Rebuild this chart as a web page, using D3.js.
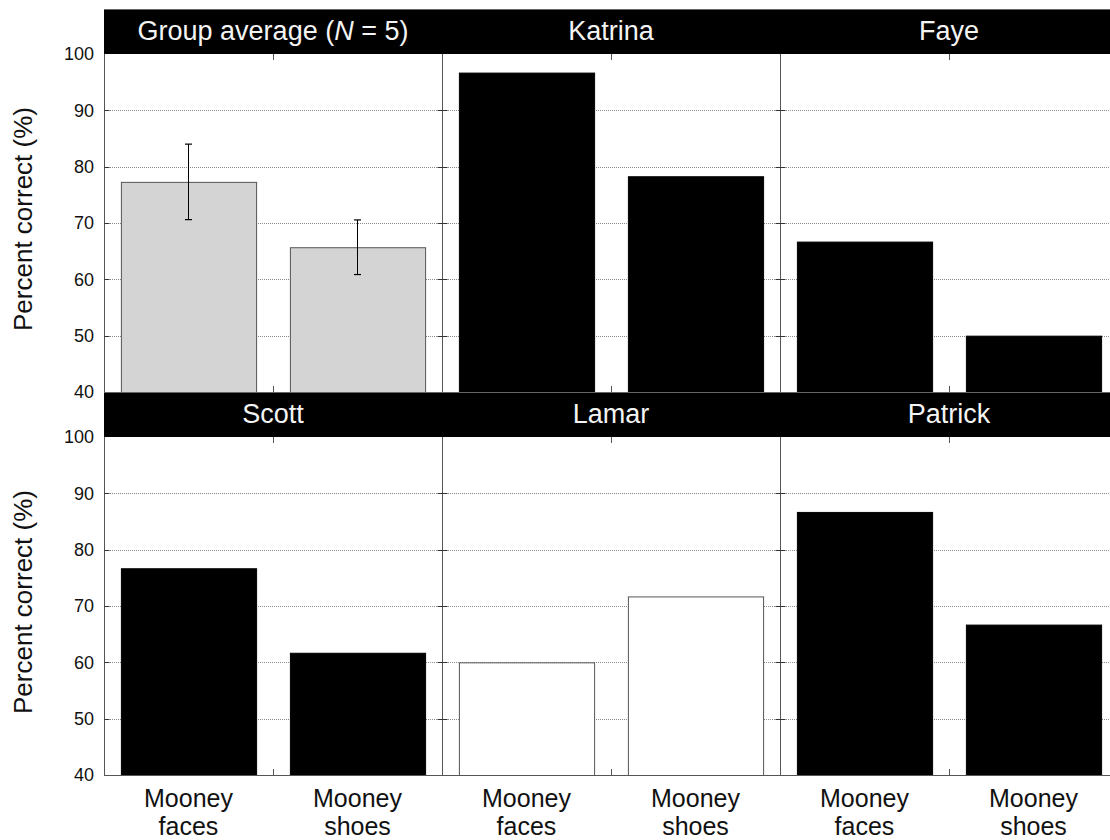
<!DOCTYPE html>
<html>
<head>
<meta charset="utf-8">
<script src="https://cdn.jsdelivr.net/npm/d3@7"></script>
<style>
  html, body { margin: 0; padding: 0; background: #fff; }
  svg { display: block; font-family: "Liberation Sans", Arial, sans-serif; }
</style>
</head>
<body>
<svg id="chart" width="1110" height="840"></svg>
<script>
// Percent correct per participant for Mooney faces vs. Mooney shoes
const subjects   = ["Group average", "Katrina", "Faye", "Scott", "Lamar", "Patrick"];
const conditions = ["Mooney faces", "Mooney shoes"];
const facesPct   = [77.3, 96.7, 66.7, 76.7, 60.0, 86.7];
const shoesPct   = [65.7, 78.3, 50.0, 61.7, 71.7, 66.7];
// Standard error for the group average (faces, shoes)
const groupErr   = [6.7, 4.85];
const yTicks     = [40, 50, 60, 70, 80, 90, 100];
const groupN     = 5;

// Bar colours: group mean in grey, Lamar in white, everyone else black
const fillFor = name => name === "Group average" ? "#d4d4d4" : (name === "Lamar" ? "#ffffff" : "#000000");
const strokeFor = name => name === "Group average" || name === "Lamar" ? "#555" : "#000";

const svg = d3.select("#chart");
const left = 104, panelW = 338, headerH = 45, plotH = 338;
const rowTops = [9, 392];           // top of each header strip
const nCols = 3;

const colScale = d3.scaleBand().domain(d3.range(nCols)).range([left, left + nCols * panelW]).padding(0);
const xInner = d3.scaleBand().domain(conditions).range([0, panelW]).paddingInner(0.2).paddingOuter(0.1);

const rows = [0, 1].map(r => {
  const plotTop = rowTops[r] + headerH;
  return { r, plotTop, y: d3.scaleLinear().domain([40, 100]).range([plotTop + plotH, plotTop]) };
});

const gridColor = "#8a8a8a";
const axisColor = "#555";

rows.forEach(row => {
  const g = svg.append("g");
  const y = row.y;
  const x0 = left, x1 = 1110 + 20;

  // dotted gridlines
  g.selectAll("line.grid").data(yTicks.filter(t => t > 40 && t < 100)).join("line")
    .attr("x1", x0).attr("x2", x1)
    .attr("y1", d => Math.round(y(d)) + 0.5).attr("y2", d => Math.round(y(d)) + 0.5)
    .attr("stroke", gridColor).attr("stroke-width", 1).attr("stroke-dasharray", "1,1");

  // bars for each panel in this row
  for (let c = 0; c < nCols; c++) {
    const i = row.r * nCols + c;
    const name = subjects[i];
    const vals = [facesPct[i], shoesPct[i]];
    const px = colScale(c);
    const pg = g.append("g").attr("transform", `translate(${px},0)`);

    pg.selectAll("rect.bar").data(conditions.map((k, j) => ({ k, v: vals[j], j }))).join("rect")
      .attr("x", d => xInner(d.k) + 0.5)
      .attr("width", xInner.bandwidth())
      .attr("y", d => y(d.v) + 0.5)
      .attr("height", d => y(40) - y(d.v))
      .attr("fill", fillFor(name))
      .attr("stroke", strokeFor(name))
      .attr("stroke-width", 1);

    if (name === "Group average") {
      const eb = pg.selectAll("g.err").data(conditions.map((k, j) => ({ k, v: vals[j], e: groupErr[j] }))).join("g");
      eb.append("line")
        .attr("x1", d => xInner(d.k) + xInner.bandwidth() / 2).attr("x2", d => xInner(d.k) + xInner.bandwidth() / 2)
        .attr("y1", d => y(d.v + d.e)).attr("y2", d => y(d.v - d.e))
        .attr("stroke", "#000").attr("stroke-width", 1);
      [1, -1].forEach(s => {
        eb.append("line")
          .attr("x1", d => xInner(d.k) + xInner.bandwidth() / 2 - 3.5)
          .attr("x2", d => xInner(d.k) + xInner.bandwidth() / 2 + 3.5)
          .attr("y1", d => y(d.v + s * d.e)).attr("y2", d => y(d.v + s * d.e))
          .attr("stroke", "#000").attr("stroke-width", 1.2);
      });
    }

    // centre ticks on top and bottom edges
    const mid = panelW / 2 + 0.5;
    pg.append("line").attr("x1", mid).attr("x2", mid).attr("y1", y(100)).attr("y2", y(100) + 6)
      .attr("stroke", axisColor);
    pg.append("line").attr("x1", mid).attr("x2", mid).attr("y1", y(40)).attr("y2", y(40) - 6)
      .attr("stroke", axisColor);
  }

  // panel frame verticals with inward ticks on both sides
  for (let c = 0; c <= nCols; c++) {
    const vx = Math.round(left + c * panelW) + 0.5;
    if (vx > 1110) continue;
    g.append("line").attr("x1", vx).attr("x2", vx).attr("y1", y(100)).attr("y2", y(40))
      .attr("stroke", axisColor).attr("stroke-width", 1);
    g.selectAll(null).data(yTicks.filter(t => t > 40 && t < 100)).join("line")
      .attr("x1", c === 0 ? vx : vx - 5).attr("x2", vx + 5)
      .attr("y1", d => Math.round(y(d)) + 0.5).attr("y2", d => Math.round(y(d)) + 0.5)
      .attr("stroke", "#333").attr("stroke-width", 1);
  }

  // y tick labels
  const ax = g.append("g").attr("transform", `translate(${left},0)`)
    .call(d3.axisLeft(y).tickValues(yTicks).tickSize(0).tickPadding(10).tickFormat(d3.format("d")));
  ax.select(".domain").remove();
  ax.selectAll("text").attr("font-size", 18).attr("fill", "#111")
    .attr("font-family", "'Liberation Sans', Arial, sans-serif");

  // y axis title
  g.append("text")
    .attr("transform", `translate(32,${(y(100) + y(40)) / 2 - 4}) rotate(-90)`)
    .attr("text-anchor", "middle")
    .attr("font-size", 26).attr("fill", "#111")
    .text("Percent correct (%)");
});

// bottom axis line of the lower row
const yb = rows[1].y;
svg.append("line").attr("x1", left).attr("x2", 1110).attr("y1", Math.round(yb(40)) + 0.5).attr("y2", Math.round(yb(40)) + 0.5)
  .attr("stroke", axisColor);

// black header strips with participant names
rowTops.forEach((top, r) => {
  svg.append("rect").attr("x", left).attr("y", top).attr("width", 1110 - left).attr("height", headerH)
    .attr("fill", "#000");
  svg.append("line").attr("x1", left).attr("x2", 1110).attr("y1", top + 0.5).attr("y2", top + 0.5)
    .attr("stroke", "#666");
  for (let c = 0; c < nCols; c++) {
    const name = subjects[r * nCols + c];
    const t = svg.append("text")
      .attr("x", colScale(c) + panelW / 2)
      .attr("y", top + 31)
      .attr("text-anchor", "middle")
      .attr("font-size", 27).attr("fill", "#f4f4f4");
    if (name === "Group average") {
      t.append("tspan").text(`${name} (`);
      t.append("tspan").attr("font-style", "italic").text("N");
      t.append("tspan").text(` = ${groupN})`);
    } else {
      t.text(name);
    }
  }
});

// two-line category labels under each bar
for (let c = 0; c < nCols; c++) {
  conditions.forEach(k => {
    const cx = colScale(c) + xInner(k) + xInner.bandwidth() / 2;
    const words = k.split(" ");
    words.forEach((w, j) => {
      svg.append("text").attr("text-anchor", "middle").attr("font-size", 25).attr("fill", "#111")
        .attr("x", cx).attr("y", 807 + j * 28).text(w);
    });
  });
}
</script>
</body>
</html>
